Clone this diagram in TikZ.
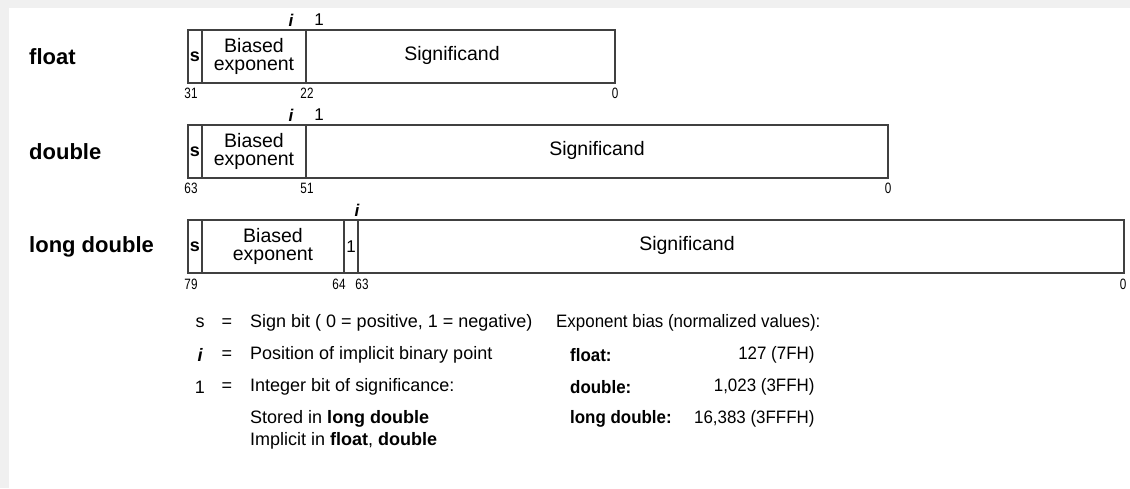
\documentclass[tikz,border=0pt]{standalone}
\usepackage{fontspec}
\setmainfont{Liberation Sans}
\newfontfamily\narrowfont[FakeStretch=0.78]{Liberation Sans}
\newfontfamily\biasfont[FakeStretch=0.94]{Liberation Sans}
\begin{document}
\begin{tikzpicture}[x=1pt,y=-1pt,
  cellbox/.style={draw=black!75, line width=1.4pt, minimum height=53pt, anchor=north west, inner sep=0pt, outer sep=0pt},
  typelbl/.style={font=\fontsize{22}{24}\selectfont\bfseries, anchor=west, inner sep=0pt},
  fieldtxt/.style={font=\fontsize{19.5}{18.5}\selectfont, align=center, inner sep=0pt},
  signtxt/.style={font=\fontsize{18}{18}\selectfont\bfseries, inner sep=0pt},
  bitnum/.style={font=\narrowfont\fontsize{15}{15}\selectfont, inner sep=0pt},
  ptlbl/.style={font=\fontsize{17}{17}\selectfont\bfseries\itshape, inner sep=0pt},
  onelbl/.style={font=\fontsize{17}{17}\selectfont, inner sep=0pt},
  legtxt/.style={font=\fontsize{18}{20}\selectfont, anchor=west, inner sep=0pt},
  biastxt/.style={font=\biasfont\fontsize{18}{20}\selectfont, anchor=west, inner sep=0pt},
  legsym/.style={font=\fontsize{18}{20}\selectfont, inner sep=0pt}]
% background
\fill[black!6] (0,0) rectangle (1130,488);
\fill[white] (9,8) rectangle (1130,488);
% ---------- float ----------
\node[typelbl] (lfloat) at (29,57) {float};
\node[cellbox, minimum width=14pt] (fs) at (188,30) {};
\node[cellbox, minimum width=104pt] (fe) at (202,30) {};
\node[cellbox, minimum width=309pt] (fm) at (306,30) {};
\node[signtxt] (fst) at (fs.center) {s};
\node[fieldtxt] (fet) at (fe.center) {Biased\\exponent};
\node[fieldtxt] (fmt) at (452,55) {Significand};
\node[ptlbl] (fi) at (291,20) {i};
\node[onelbl] (f1) at (319,20) {1};
\node[bitnum] (fb31) at (191,93) {31};
\node[bitnum] (fb22) at (307,93) {22};
\node[bitnum] (fb0) at (615,93) {0};
% ---------- double ----------
\node[typelbl] (ldouble) at (29,152) {double};
\node[cellbox, minimum width=14pt] (ds) at (188,125) {};
\node[cellbox, minimum width=104pt] (de) at (202,125) {};
\node[cellbox, minimum width=582pt] (dm) at (306,125) {};
\node[signtxt] (dst) at (ds.center) {s};
\node[fieldtxt] (det) at (de.center) {Biased\\exponent};
\node[fieldtxt] (dmt) at (597,150) {Significand};
\node[ptlbl] (di) at (291,115) {i};
\node[onelbl] (d1) at (319,115) {1};
\node[bitnum] (db63) at (191,188) {63};
\node[bitnum] (db51) at (307,188) {51};
\node[bitnum] (db0) at (888,188) {0};
% ---------- long double ----------
\node[typelbl] (llong) at (29,247) {long double};
\node[cellbox, minimum width=14pt] (ls) at (188,220) {};
\node[cellbox, minimum width=142pt] (le) at (202,220) {};
\node[cellbox, minimum width=14pt] (lo) at (344,220) {};
\node[cellbox, minimum width=766pt] (lm) at (358,220) {};
\node[signtxt] (lst) at (ls.center) {s};
\node[fieldtxt] (let) at (le.center) {Biased\\exponent};
\node[onelbl] (lot) at (lo.center) {1};
\node[fieldtxt] (lmt) at (687,245) {Significand};
\node[ptlbl] (li) at (357,210) {i};
\node[bitnum] (lb79) at (191,284) {79};
\node[bitnum] (lb64) at (339,284) {64};
\node[bitnum] (lb63) at (362,284) {63};
\node[bitnum] (lb0) at (1123,284) {0};
% ---------- legend ----------
\node[legsym] (ks) at (200,323) {s};
\node[legsym] (ke1) at (227,323) {=};
\node[legtxt] (kt1) at (250,323) {Sign bit ( 0 = positive, 1 = negative)};
\node[legsym, font=\fontsize{18}{20}\selectfont\bfseries\itshape] (ki) at (200,355) {i};
\node[legsym] (ke2) at (227,355) {=};
\node[legtxt] (kt2) at (250,355) {Position of implicit binary point};
\node[legsym] (k1) at (200,387) {1};
\node[legsym] (ke3) at (227,387) {=};
\node[legtxt] (kt3) at (250,387) {Integer bit of significance:};
\node[legtxt] (kt4) at (250,419) {Stored in \textbf{long double}};
\node[legtxt] (kt5) at (250,441) {Implicit in \textbf{float}, \textbf{double}};
\node[biastxt] (bh) at (556,323) {Exponent bias (normalized values):};
\node[biastxt] (bf) at (570,355) {\textbf{float:}};
\node[biastxt] (bd) at (570,387) {\textbf{double:}};
\node[biastxt] (bl) at (570,419) {\textbf{long double:}};
\coordinate (vr) at ([xshift=-6pt]bh.east);
\node[biastxt, anchor=east] (bfv) at (vr |- bf) {127 (7FH)};
\node[biastxt, anchor=east] (bdv) at (vr |- bd) {1,023 (3FFH)};
\node[biastxt, anchor=east] (blv) at (vr |- bl) {16,383 (3FFFH)};
\end{tikzpicture}
\end{document}
